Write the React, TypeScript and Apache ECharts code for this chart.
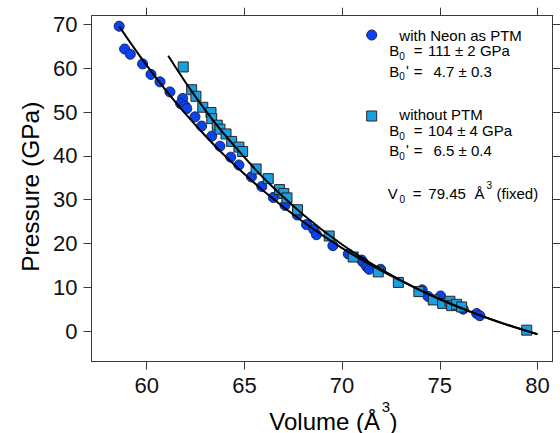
import React, { useEffect, useRef } from "react";
import * as echarts from "echarts";

// ---- data ----
const neonVolume = [58.59, 58.87, 59.16, 59.79, 60.22, 60.68, 61.19, 61.84, 61.74, 61.96, 62.05, 62.47, 62.81, 63.33, 63.75, 64.3, 64.72, 65.36, 65.89, 66.48, 67.08, 67.71, 68.18, 68.55, 68.69, 69.53, 70.32, 71.0, 71.08, 71.26, 71.39, 71.97, 74.1, 74.4, 75.04, 76.2, 76.89, 77.05];
const neonPressure = [69.6, 64.4, 63.2, 61.0, 58.6, 56.9, 54.6, 53.1, 51.9, 51.4, 50.8, 48.9, 46.8, 44.5, 42.2, 39.7, 37.9, 35.2, 33.0, 30.5, 28.7, 26.5, 24.3, 23.2, 22.0, 19.5, 17.6, 16.2, 15.7, 14.7, 14.1, 14.1, 9.4, 7.9, 8.0, 5.0, 4.0, 3.5];

const noPtmVolume = [61.87, 62.3, 62.52, 62.87, 63.29, 63.33, 63.61, 63.75, 64.06, 64.35, 64.72, 64.91, 65.6, 66.22, 66.8, 67.02, 67.18, 67.72, 69.34, 70.57, 71.85, 72.88, 73.93, 74.67, 75.15, 75.52, 75.61, 75.86, 76.12, 79.45];
const noPtmPressure = [60.3, 55.1, 53.6, 51.1, 49.9, 48.5, 47.0, 46.1, 45.0, 43.3, 42.0, 41.0, 37.0, 34.8, 32.3, 31.4, 30.4, 27.7, 21.7, 16.9, 13.5, 11.1, 9.0, 7.1, 6.3, 6.8, 5.8, 6.1, 5.5, 0.2];

const fitNeonVolume = [58.6, 59, 60, 61, 62, 63, 64, 66, 68, 70, 72, 74, 76, 78, 80];
const fitNeonPressure = [69.57, 66.91, 60.64, 54.86, 49.53, 44.6, 40.04, 31.92, 24.95, 18.95, 13.78, 9.33, 5.47, 2.14, -0.75];

const fitNoPtmVolume = [61.1, 62, 63, 64, 66, 68, 70, 72, 74, 76, 78, 80];
const fitNoPtmPressure = [62.84, 56.69, 50.46, 44.78, 34.87, 26.63, 19.77, 14.06, 9.3, 5.33, 2.03, -0.7];

const xTicks = [60, 65, 70, 75, 80];
const yTicks = [0, 10, 20, 30, 40, 50, 60, 70];

const zip = (a: number[], b: number[]) => a.map((v, i) => [v, b[i]]);

const FONT = "Liberation Sans, Arial, Helvetica, sans-serif";
const AXIS_COLOR = "#3a3a3a";
const CIRCLE_FILL = "#0a44f0";
const CIRCLE_BORDER = "#14205a";
const SQUARE_FILL = "#1a9fe3";
const SQUARE_BORDER = "#262626";

function txt(text: string, x: number, y: number, size: number, extra: any = {}) {
  const align = extra.align || "left";
  const { align: _a, ...rest } = extra;
  return {
    type: "text",
    x,
    y,
    z: 100,
    silent: true,
    ...rest,
    style: {
      text,
      fill: "#000",
      fontSize: size,
      fontFamily: FONT,
      align,
      textAlign: align,
      verticalAlign: "middle",
      textVerticalAlign: "middle",
    },
  };
}

export default function App() {
  const ref = useRef<HTMLDivElement>(null);
  useEffect(() => {
    if (!ref.current) return;
    const chart = echarts.init(ref.current, null, { renderer: "svg" });
    const xMin = 57.175;
    const xMax = 80.78;
    const yMin = -7;
    const yMax = 72;
    const axisCommon = {
      type: "value",
      axisLine: { show: true, onZero: false, lineStyle: { color: AXIS_COLOR, width: 1 } },
      axisTick: { show: true, inside: false, length: 8, lineStyle: { color: AXIS_COLOR, width: 1 } },
      splitLine: { show: false },
    };
    const L = 15; // legend font size
    const graphics: any[] = [
      // axis titles
      txt("Pressure (GPa)", 30.5, 186.7, 24.5, { rotation: Math.PI / 2, align: "center" }),
      txt("Volume (Å", 269.3, 421, 24),
      txt("3", 381.8, 406.5, 15),
      txt(")", 389.5, 421, 24),
      // legend block 1
      { type: "circle", z: 100, shape: { cx: 371.7, cy: 35, r: 5 }, style: { fill: CIRCLE_FILL, stroke: CIRCLE_BORDER, lineWidth: 1 } },
      txt("with Neon as PTM", 399.3, 35, L),
      txt("B", 389.3, 50.5, L),
      txt("0", 399.3, 56, 10),
      txt("=", 413.8, 50.5, L),
      txt("111 ± 2 GPa", 428, 50.5, L),
      txt("B", 389.3, 71.3, L),
      txt("0", 399.3, 76.5, 10),
      txt("'", 406, 70.5, L),
      txt("=", 413.8, 71.3, L),
      txt("4.7 ± 0.3", 433.5, 71.3, L),
      // legend block 2
      { type: "rect", z: 100, shape: { x: 366.7, y: 111, width: 10, height: 10 }, style: { fill: SQUARE_FILL, stroke: SQUARE_BORDER, lineWidth: 1 } },
      txt("without PTM", 399.3, 114.5, L),
      txt("B", 389.3, 130.5, L),
      txt("0", 399.3, 136, 10),
      txt("=", 413.8, 130.5, L),
      txt("104 ± 4 GPa", 428, 130.5, L),
      txt("B", 389.3, 150.5, L),
      txt("0", 399.3, 156, 10),
      txt("'", 406, 149.8, L),
      txt("=", 413.8, 150.5, L),
      txt("6.5 ± 0.4", 433.5, 150.5, L),
      // V0
      txt("V", 387.7, 193.8, L),
      txt("0", 399.5, 199.3, 10),
      txt("=", 412.8, 193.8, L),
      txt("79.45", 428.3, 193.8, L),
      txt("Å", 474.5, 193.8, L),
      txt("3", 486.5, 185, 10),
      txt("(fixed)", 496.5, 193.8, L),
    ];

    chart.setOption({
      animation: false,
      backgroundColor: "#ffffff",
      textStyle: { fontFamily: FONT },
      grid: {
        left: 91.5,
        right: 7.3,
        top: 15.7,
        bottom: 71.3,
        containLabel: false,
        outerBoundsMode: "none",
        show: false,
      },
      xAxis: [
        {
          ...axisCommon,
          position: "bottom",
          min: xMin,
          max: xMax,
          axisTick: { ...axisCommon.axisTick, customValues: xTicks },
          axisLabel: { customValues: xTicks, fontSize: 22, color: "#111", margin: 13, fontFamily: FONT },
        },
        {
          ...axisCommon,
          position: "top",
          min: xMin,
          max: xMax,
          axisTick: { ...axisCommon.axisTick, customValues: xTicks },
          axisLabel: { show: false },
        },
      ],
      yAxis: [
        {
          ...axisCommon,
          position: "left",
          min: yMin,
          max: yMax,
          axisTick: { ...axisCommon.axisTick, customValues: yTicks },
          axisLabel: { customValues: yTicks, fontSize: 22, color: "#111", margin: 14, fontFamily: FONT },
        },
        {
          ...axisCommon,
          position: "right",
          min: yMin,
          max: yMax,
          axisTick: { ...axisCommon.axisTick, customValues: yTicks },
          axisLabel: { show: false },
        },
      ],
      series: [
        {
          name: "with Neon as PTM",
          type: "scatter",
          xAxisIndex: 0,
          yAxisIndex: 0,
          symbol: "circle",
          symbolSize: 10,
          z: 2,
          itemStyle: { color: CIRCLE_FILL, borderColor: CIRCLE_BORDER, borderWidth: 1, opacity: 1 },
          data: zip(neonVolume, neonPressure),
        },
        {
          name: "without PTM",
          type: "scatter",
          xAxisIndex: 0,
          yAxisIndex: 0,
          symbol: "rect",
          symbolSize: 10,
          z: 3,
          itemStyle: { color: SQUARE_FILL, borderColor: SQUARE_BORDER, borderWidth: 1, opacity: 1 },
          data: zip(noPtmVolume, noPtmPressure),
        },
        {
          name: "fit Neon",
          type: "line",
          xAxisIndex: 0,
          yAxisIndex: 0,
          smooth: 0.3,
          showSymbol: false,
          symbol: "none",
          z: 4,
          lineStyle: { color: "#000", width: 2 },
          data: zip(fitNeonVolume, fitNeonPressure),
        },
        {
          name: "fit no PTM",
          type: "line",
          xAxisIndex: 0,
          yAxisIndex: 0,
          smooth: 0.3,
          showSymbol: false,
          symbol: "none",
          z: 4,
          lineStyle: { color: "#000", width: 2 },
          data: zip(fitNoPtmVolume, fitNoPtmPressure),
        },
      ],
      graphic: graphics,
    });
    return () => chart.dispose();
  }, []);
  return (
    <div
      ref={ref}
      style={{ position: "absolute", left: 0, top: 0, width: 560, height: 433, background: "#fff" }}
    />
  );
}
